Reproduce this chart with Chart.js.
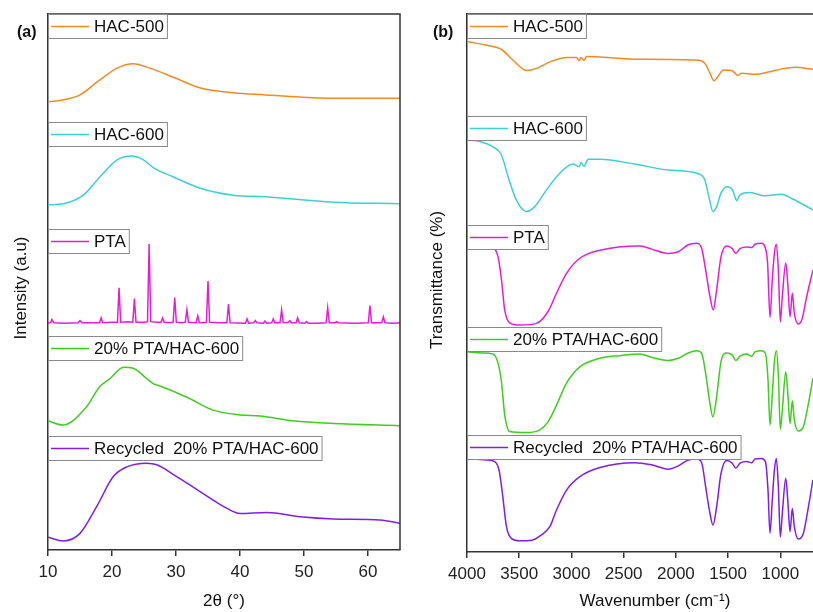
<!DOCTYPE html>
<html>
<head>
<meta charset="utf-8">
<script src="https://cdn.jsdelivr.net/npm/chart.js@4/dist/chart.umd.min.js"></script>
<style>
  html, body { margin: 0; padding: 0; background: #fff; overflow: hidden; }
  #wrap { position: relative; width: 813px; height: 612px; overflow: hidden; background: #fff; }
  canvas { position: absolute; top: 0; }
  #xrd { left: 0; }
  #ftir { left: 405px; }
</style>
</head>
<body>
<div id="wrap">
  <canvas id="xrd" width="410" height="612"></canvas>
  <canvas id="ftir" width="460" height="612"></canvas>
</div>
<script>
// ---- series names / colours ----
const seriesNames = ["HAC-500", "HAC-600", "PTA", "20% PTA/HAC-600", "Recycled  20% PTA/HAC-600"];
const seriesColors = ["#F28A26", "#3ECFD2", "#E41FD3", "#3FCD1F", "#7E1FE8"];

// ---- (a) XRD: 2theta (deg) and stacked intensity (a.u.) ----
const xrdHac500X = [10, 12.5, 15, 18.1, 20.8, 23.3, 25.9, 29.6, 33.8, 38.9, 44, 49.4, 54.5, 65];
const xrdHac500Y = [83.6, 84.0, 84.9, 87.7, 89.9, 90.7, 89.9, 88.2, 86.2, 85.3, 84.9, 84.5, 84.3, 84.3];

const xrdHac600X = [10, 12.4, 15.5, 18.1, 20.8, 23.1, 24.9, 26.5, 29.6, 33.8, 38.9, 44, 54.5, 65];
const xrdHac600Y = [64.4, 64.6, 66.2, 69.6, 72.8, 73.5, 72.8, 71.3, 69.6, 67.5, 66.2, 65.9, 64.9, 64.6];

const xrdPtaX = [10, 10.4, 10.6, 10.9, 12.5, 14.7, 15.0, 15.3, 17.5, 18.05, 18.3, 18.55, 20.0, 20.85, 21.1, 21.35,
  22.5, 23.25, 23.5, 23.75, 25.0, 25.55, 25.8, 26.05, 27.0, 27.65, 27.9, 28.15, 29.0, 29.55, 29.8, 30.05,
  31.0, 31.45, 31.7, 31.95, 33.15, 33.4, 33.65, 34.75, 35.0, 35.25, 37.0, 37.95, 38.2, 38.45, 40.85, 41.1,
  41.35, 42.15, 42.4, 42.65, 43.65, 43.9, 44.15, 44.95, 45.2, 45.45, 46.25, 46.5, 46.75, 47.55, 47.8, 48.05,
  48.75, 49.0, 49.25, 50.15, 50.4, 50.65, 52.0, 53.45, 53.7, 53.95, 54.85, 55.1, 55.35, 58.0, 60.05, 60.3,
  60.55, 62.15, 62.4, 62.65, 64.0, 65];
const xrdPtaY = [42.4, 42.4, 43.0, 42.4, 42.3, 42.4, 42.8, 42.4, 42.4, 42.4, 43.3, 42.4, 42.5, 42.5, 48.9, 42.5,
  42.6, 42.5, 46.9, 42.5, 42.5, 42.6, 57.1, 42.6, 42.5, 42.5, 43.3, 42.5, 42.4, 42.5, 47.1, 42.5,
  42.4, 42.5, 44.8, 42.5, 42.4, 43.7, 42.4, 42.5, 50.2, 42.5, 42.4, 42.4, 45.9, 42.4, 42.3, 43.1,
  42.3, 42.4, 42.8, 42.4, 42.3, 42.7, 42.3, 42.4, 43.1, 42.4, 42.4, 44.8, 42.4, 42.5, 42.8, 42.4,
  42.4, 43.3, 42.4, 42.3, 42.6, 42.3, 42.3, 42.4, 45.2, 42.4, 42.4, 42.6, 42.4, 42.3, 42.4, 45.6,
  42.4, 42.4, 43.5, 42.4, 42.3, 42.4];

const xrdMixX = [10, 12.3, 16, 18.1, 19.7, 21.8, 23.3, 25.4, 26.5, 27.5, 31.7, 35.8, 40, 43.1, 48.3, 54.6, 65];
const xrdMixY = [24.1, 23.3, 26.7, 30.5, 32.0, 34.1, 33.9, 32.0, 31.0, 30.6, 28.5, 26.1, 25.2, 25.0, 24.1, 23.6, 23.2];

const xrdRecX = [10, 12.4, 15, 17.6, 20.2, 22.3, 25.4, 27, 30.1, 33.75, 37.9, 40, 44.2, 49.4, 54.6, 61.9, 65];
const xrdRecY = [2.4, 1.7, 3.1, 8.1, 13.7, 15.5, 16.2, 15.9, 13.7, 10.9, 7.8, 6.8, 7.0, 6.2, 5.8, 5.6, 5.0];

const xrdTicks = [10, 20, 30, 40, 50, 60];

// ---- (b) FTIR: wavenumber (cm-1) and stacked transmittance ----
const irHac500Wn = [4000, 3814, 3670, 3559, 3431, 3335, 3207, 3047, 2951, 2926, 2910, 2879, 2856, 2393, 1786,
  1722, 1674, 1635, 1600, 1546, 1466, 1434, 1408, 1370, 1243, 1115, 987, 859, 688];
const irHac500T = [94.9, 94.2, 93.4, 91.4, 89.5, 89.9, 91.1, 91.9, 91.9, 91.3, 91.9, 91.4, 92.1, 91.6, 91.4,
  90.8, 89.0, 87.6, 88.3, 89.6, 89.5, 89.0, 88.6, 89.0, 88.8, 89.2, 89.8, 90.1, 89.7];

const irHac600Wn = [4000, 3878, 3751, 3670, 3607, 3527, 3431, 3351, 3239, 3112, 2984, 2926, 2910, 2879, 2840,
  2728, 2393, 2074, 1786, 1722, 1684, 1645, 1610, 1568, 1514, 1460, 1434, 1418, 1386, 1291, 1147, 987, 891, 688];
const irHac600T = [76.6, 76.3, 75.3, 73.8, 69.8, 65.4, 63.3, 64.2, 67.3, 70.4, 72.1, 71.6, 72.4, 71.7, 73.0,
  73.0, 72.1, 71.0, 70.3, 69.1, 66.0, 63.3, 64.2, 66.7, 67.9, 67.4, 66.0, 65.3, 66.4, 66.8, 66.2, 66.5, 65.7, 63.6];

const irPtaWn = [4000, 3847, 3751, 3703, 3670, 3639, 3591, 3495, 3335, 3224, 3143, 3047, 2920, 2728, 2345,
  2233, 2074, 1978, 1882, 1801, 1753, 1715, 1674, 1642, 1610, 1568, 1514, 1460, 1427, 1386, 1322, 1274,
  1243, 1179, 1147, 1122, 1099, 1077, 1057, 1038, 1019, 1000, 981, 948, 929, 907, 885, 866, 827, 795, 747, 688];
const irPtaT = [57.4, 57.1, 56.6, 54.9, 50.6, 45.0, 42.6, 42.2, 42.5, 44.7, 48.1, 51.8, 54.6, 56.1, 56.9,
  56.3, 55.5, 55.8, 57.1, 57.4, 56.4, 52.4, 47.5, 45.0, 48.7, 54.9, 56.9, 56.4, 55.5, 56.4, 56.7, 56.6,
  57.2, 57.4, 56.7, 53.7, 43.6, 50.6, 55.5, 57.2, 52.4, 42.8, 47.5, 53.7, 49.9, 43.7, 48.1, 44.4, 42.4, 43.1, 47.5, 52.4];

const irMixWn = [4000, 3847, 3751, 3703, 3670, 3639, 3591, 3431, 3303, 3224, 3143, 3047, 2920, 2728, 2537,
  2345, 2233, 2074, 1978, 1882, 1801, 1753, 1715, 1674, 1645, 1610, 1568, 1514, 1460, 1427, 1386, 1322,
  1274, 1243, 1179, 1143, 1118, 1099, 1077, 1057, 1038, 1019, 1000, 981, 948, 929, 907, 885, 866, 827, 779, 731, 688];
const irMixT = [37.2, 37.0, 36.8, 35.1, 31.6, 25.5, 22.4, 22.2, 22.7, 24.2, 27.3, 31.4, 34.4, 36.0, 36.5,
  36.8, 36.2, 35.6, 36.0, 37.0, 37.4, 36.9, 33.2, 27.6, 25.1, 28.9, 35.4, 37.0, 36.6, 35.6, 36.4, 36.8,
  36.4, 37.2, 37.4, 36.9, 32.0, 23.6, 29.2, 35.3, 37.4, 32.9, 22.8, 26.4, 33.5, 29.7, 23.9, 28.1, 24.5, 22.5, 23.3, 27.6, 32.3];

const irRecWn = [4000, 3814, 3735, 3693, 3661, 3622, 3574, 3495, 3383, 3287, 3207, 3143, 3047, 2920, 2728,
  2393, 2233, 2074, 1978, 1882, 1801, 1753, 1715, 1674, 1645, 1610, 1568, 1514, 1460, 1427, 1386, 1322,
  1274, 1243, 1179, 1143, 1118, 1099, 1077, 1057, 1038, 1019, 1000, 981, 948, 929, 907, 885, 866, 827, 779, 731, 688];
const irRecT = [17.4, 17.1, 16.8, 15.2, 10.9, 4.7, 2.5, 2.1, 2.2, 3.2, 4.7, 7.8, 11.5, 14.0, 15.7,
  16.6, 16.2, 15.4, 16.0, 17.1, 17.3, 16.6, 12.1, 7.2, 5.0, 8.4, 14.6, 17.0, 16.5, 15.6, 16.5, 16.8,
  16.6, 17.3, 17.4, 16.8, 11.5, 3.5, 9.7, 15.2, 17.4, 12.1, 2.8, 7.2, 13.7, 9.7, 3.8, 8.1, 4.7, 2.4, 3.5, 8.4, 13.4];

const irTicks = [4000, 3500, 3000, 2500, 2000, 1500, 1000, 500];

const FONT = "'Liberation Sans', Arial, sans-serif";
const FSIZE = 17;
const AXIS = "#333";

function pts(xs, ys) {
  return xs.map((x, i) => ({ x: x, y: ys[i] }));
}

function makeDatasets(pairs) {
  return pairs.map((p, i) => ({
    label: seriesNames[i],
    data: pts(p[0], p[1]),
    borderColor: seriesColors[i],
    borderWidth: 1.5,
    pointRadius: 0,
    fill: false,
    tension: p[2] === "sharp" ? 0 : 0.4,
    cubicInterpolationMode: p[2] === "sharp" ? "default" : "monotone",
  }));
}

// boxed legend entries, frame lines, y title and panel letter
const panelDecor = {
  id: "panelDecor",
  afterDatasetsDraw(chart, args, opts) {
    const { ctx, chartArea } = chart;
    const { left, top, right, bottom } = chartArea;
    ctx.save();
    // frame: top + (optional) right
    ctx.strokeStyle = AXIS;
    ctx.lineWidth = 1.5;
    ctx.beginPath();
    ctx.moveTo(left, top);
    ctx.lineTo(right, top);
    if (opts.rightBorder) {
      ctx.lineTo(right, bottom);
    }
    ctx.stroke();

    // legend boxes
    ctx.font = FSIZE + "px " + FONT;
    ctx.textBaseline = "middle";
    chart.data.datasets.forEach((ds, i) => {
      const y = opts.legendTops[i];
      const h = 24;
      const tw = ctx.measureText(ds.label).width;
      const w = 46 + tw + 3;
      ctx.fillStyle = "#fff";
      ctx.fillRect(left, y, w, h);
      ctx.strokeStyle = "#8a8a8a";
      ctx.lineWidth = 1;
      ctx.strokeRect(left + 0.5, y + 0.5, w, h);
      ctx.strokeStyle = ds.borderColor;
      ctx.lineWidth = 1.5;
      ctx.beginPath();
      ctx.moveTo(left + 3, y + h / 2 + 0.5);
      ctx.lineTo(left + 41, y + h / 2 + 0.5);
      ctx.stroke();
      ctx.fillStyle = "#111";
      ctx.textAlign = "left";
      ctx.fillText(ds.label, left + 46, y + h / 2 + 1);
    });

    // y axis title
    ctx.save();
    ctx.translate(opts.yTitleX, (top + bottom) / 2 + opts.yTitleShift);
    ctx.rotate(-Math.PI / 2);
    ctx.textAlign = "center";
    ctx.textBaseline = "middle";
    ctx.fillStyle = "#111";
    ctx.font = FSIZE + "px " + FONT;
    ctx.fillText(opts.yTitle, 0, 0);
    ctx.restore();

    // panel letter
    ctx.font = "bold 16px " + FONT;
    ctx.textAlign = "left";
    ctx.textBaseline = "middle";
    ctx.fillStyle = "#111";
    ctx.fillText(opts.letter, opts.letterX, 33);
    ctx.restore();
  }
};

function xAxis(tickValues, extra) {
  return Object.assign({
    type: "linear",
    afterBuildTicks(scale) { scale.ticks = tickValues.map(v => ({ value: v })); },
    grid: { display: true, drawOnChartArea: false, drawTicks: true, tickLength: 6, color: AXIS, lineWidth: 1.5 },
    border: { display: true, color: AXIS, width: 1.5 },
    ticks: {
      color: "#222",
      font: { family: FONT, size: FSIZE },
      padding: 6,
      autoSkip: false,
      maxRotation: 0,
      callback: v => String(v),
    },
    title: { display: true, color: "#111", font: { family: FONT, size: FSIZE }, padding: { top: 2, bottom: 0 } },
  }, extra);
}

function yAxis(width) {
  return {
    type: "linear",
    min: 0,
    max: 100,
    grid: { display: false },
    border: { display: true, color: AXIS, width: 1.5 },
    ticks: { display: false },
    afterFit(scale) { scale.width = width; },
  };
}

// ---- panel (a) ----
const xrdX = xAxis(xrdTicks, {
  min: 10,
  max: 65,
  afterFit(scale) { scale.height = 62; },
});
xrdX.title.text = "2\u03B8 (\u00B0)";

new Chart(document.getElementById("xrd"), {
  type: "line",
  data: {
    datasets: makeDatasets([
      [xrdHac500X, xrdHac500Y],
      [xrdHac600X, xrdHac600Y],
      [xrdPtaX, xrdPtaY, "sharp"],
      [xrdMixX, xrdMixY],
      [xrdRecX, xrdRecY],
    ]),
  },
  options: {
    responsive: false,
    animation: false,
    devicePixelRatio: 1,
    layout: { padding: { top: 14, right: 10, left: 0, bottom: 0 } },
    plugins: {
      legend: { display: false },
      tooltip: { enabled: false },
      panelDecor: {
        legendTops: [14, 122, 229, 336, 436],
        rightBorder: true,
        yTitle: "Intensity (a.u)",
        yTitleX: 21,
        yTitleShift: 6,
        letter: "(a)",
        letterX: 17,
      },
    },
    scales: { x: xrdX, y: yAxis(48) },
  },
  plugins: [panelDecor],
});

// ---- panel (b) ----
const irX = xAxis(irTicks, {
  min: 400,
  max: 4000,
  reverse: true,
  afterFit(scale) { scale.height = 60; },
});
irX.title.text = "Wavenumber (cm\u207B\u00B9)";

new Chart(document.getElementById("ftir"), {
  type: "line",
  data: {
    datasets: makeDatasets([
      [irHac500Wn, irHac500T],
      [irHac600Wn, irHac600T],
      [irPtaWn, irPtaT],
      [irMixWn, irMixT],
      [irRecWn, irRecT],
    ]),
  },
  options: {
    responsive: false,
    animation: false,
    devicePixelRatio: 1,
    layout: { padding: { top: 14, right: 22, left: 0, bottom: 0 } },
    plugins: {
      legend: { display: false },
      tooltip: { enabled: false },
      panelDecor: {
        legendTops: [14, 116, 225, 327, 435],
        rightBorder: false,
        yTitle: "Transmittance (%)",
        yTitleX: 32,
        yTitleShift: -3,
        letter: "(b)",
        letterX: 28,
      },
    },
    scales: { x: irX, y: yAxis(62) },
  },
  plugins: [panelDecor],
});
</script>
</body>
</html>
